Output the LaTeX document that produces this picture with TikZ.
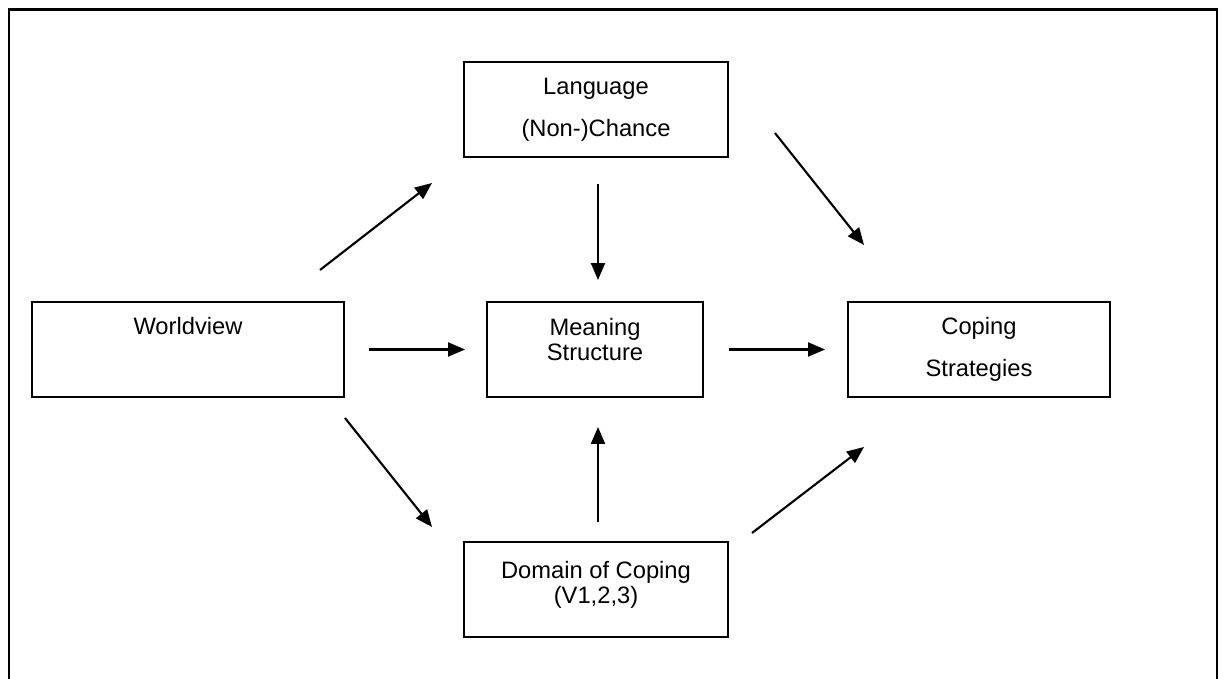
\documentclass[tikz,border=0pt]{standalone}
\usepackage{fontspec}
\setmainfont{Liberation Sans}
\usetikzlibrary{arrows.meta}

\begin{document}
\begin{tikzpicture}[
    x=0.02cm, y=-0.02cm,
    box/.style={draw, line width=1.2pt, align=center, inner sep=0pt, outer sep=0pt,
        minimum height=1.9cm, font=\fontsize{13.5}{24}\selectfont},
    tightbox/.style={box, font=\fontsize{13.5}{14.5}\selectfont},
    % Edge styles
    arrow/.style={-{Triangle[length=0.34cm, width=0.28cm]}, line width=1.2pt},
    frame/.style={line width=1.3pt},
    ]

    \useasboundingbox (0,0) rectangle (1225,679);

    % Outer frame (open at the bottom)
    \draw[frame] (9,700) -- (9,9.5) -- (1217,9.5) -- (1217,700);

    % Boxes
    \node[box, minimum width=5.28cm] (lang) at (596,109.5) {Language\\(Non-)Chance};
    \node[box, minimum width=6.24cm] (wv) at (188,349.5) {Worldview\\\phantom{Coping}};
    \node[tightbox, minimum width=4.32cm] (ms) at (595,349.5) {Meaning\\Structure\\[-5.6pt]\phantom{g}};
    \node[box, minimum width=5.24cm] (cs) at (979,349.5) {Coping\\Strategies};
    \node[tightbox, minimum width=5.28cm] (dom) at (596,589.5) {Domain of Coping\\(V1,2,3)\\[-9pt]\phantom{g}};

    % Connections into and out of the middle row
    \draw[arrow] ([shift={(-24,-32)}]wv.north east) -- ([shift={(-32,26)}]lang.south west);
    \draw[arrow] ([shift={(47,-24)}]lang.south east) -- ([shift={(16,-57)}]cs.north west);
    \draw[arrow] ([shift={(2,27)}]lang.south) -- ([shift={(3,-22)}]ms.north);
    \draw[arrow] ([shift={(25,0)}]wv.east) -- ([shift={(-22,0)}]ms.west);
    \draw[arrow] ([shift={(26,0)}]ms.east) -- ([shift={(-23,0)}]cs.west);
    \draw[arrow] ([shift={(2,-20)}]dom.north) -- ([shift={(3,30)}]ms.south);
    \draw[arrow] ([shift={(1,21)}]wv.south east) -- ([shift={(-32,-15)}]dom.north west);
    \draw[arrow] ([shift={(24,-9)}]dom.north east) -- ([shift={(16,50)}]cs.south west);

\end{tikzpicture}
\end{document}
